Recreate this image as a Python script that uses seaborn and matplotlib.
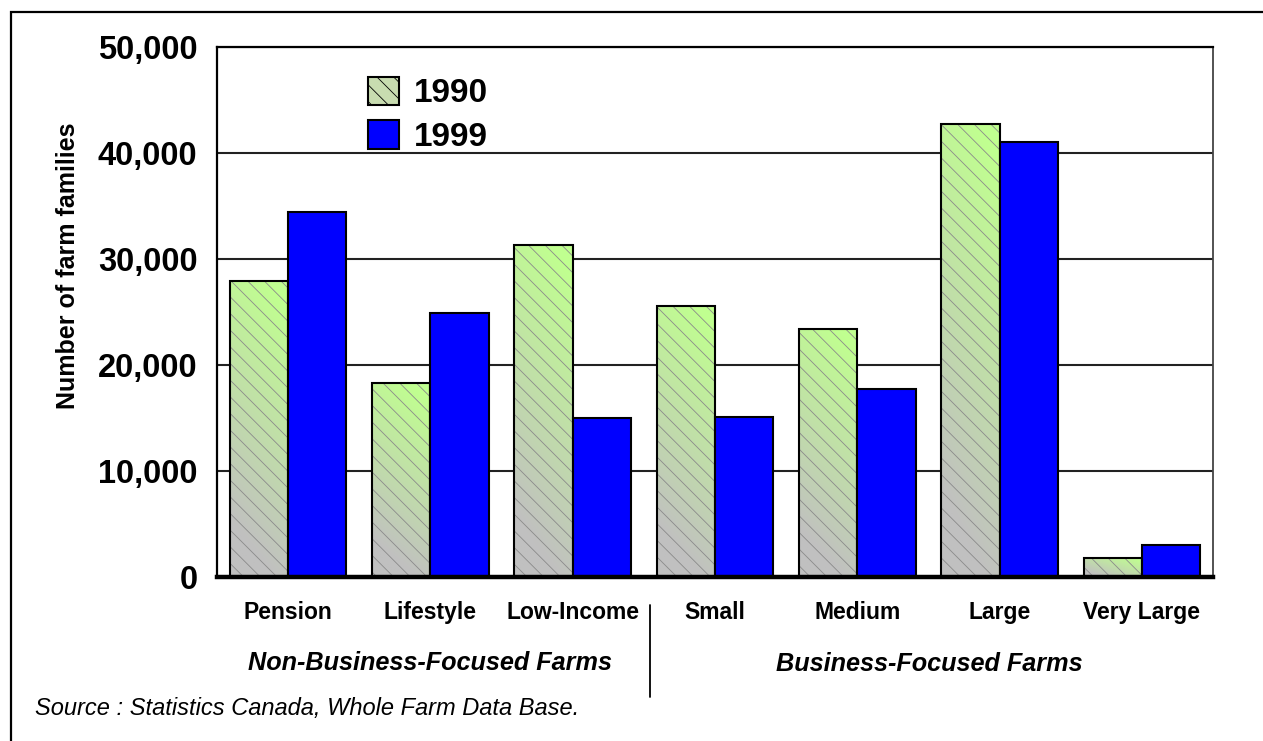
import numpy as np
import pandas as pd
import matplotlib
matplotlib.use("Agg")
import matplotlib.pyplot as plt
from matplotlib.patches import Rectangle, Patch
from matplotlib.lines import Line2D
import seaborn as sns

# ---- data ----
categories = ['Pension', 'Lifestyle', 'Low-Income', 'Small', 'Medium', 'Large', 'Very Large']
years = ['1990', '1999']
values_1990 = [27900, 18300, 31300, 25600, 23400, 42700, 1800]
values_1999 = [34400, 24900, 15000, 15100, 17700, 41000, 3000]
yticks = [0, 10000, 20000, 30000, 40000, 50000]
ytick_labels = ['0', '10,000', '20,000', '30,000', '40,000', '50,000']
group_labels = ['Non-Business-Focused Farms', 'Business-Focused Farms']
y_label = 'Number of farm families'
source_text = 'Source : Statistics Canada, Whole Farm Data Base.'

df = pd.DataFrame({
    'category': categories * 2,
    'year': ['1990'] * len(categories) + ['1999'] * len(categories),
    'value': values_1990 + values_1999,
})

sns.set_theme(style='white')
plt.rcParams['font.family'] = ['Liberation Sans', 'DejaVu Sans']
plt.rcParams['hatch.linewidth'] = 0.6
for k in ['text.color', 'axes.labelcolor', 'xtick.color', 'ytick.color']:
    plt.rcParams[k] = 'black'

W, H = 1263, 741
fig = plt.figure(figsize=(W / 100, H / 100), dpi=100)
fig.patch.set_facecolor('white')

def fx(px):
    return px / W

def fy(py):
    return 1 - py / H

ax = fig.add_axes([fx(217), fy(577), fx(1213) - fx(217), fy(47) - fy(577)])

GRAY = '#c0c0c0'
BLUE = '#0000ff'
sns.barplot(data=df, x='category', y='value', hue='year', order=categories,
            hue_order=years, palette={'1990': GRAY, '1999': BLUE},
            width=0.82, gap=0, edgecolor='black', linewidth=1.5,
            saturation=1, legend=False, ax=ax)

ax.set_xlim(-0.5, len(categories) - 0.5)
ax.set_ylim(0, 50000)

# gradient for 1990 bars
gx = np.linspace(0, 1, 60)
gy = np.linspace(0, 1, 200)
U, V = np.meshgrid(gx, gy)
c_bot = np.array([192, 192, 192]) / 255
c_top = np.array([192, 255, 144]) / 255

for p in list(ax.patches):
    fc = p.get_facecolor()
    if abs(fc[2] - 1.0) < 0.01 and fc[0] < 0.1:
        p.set_zorder(2)
        continue
    x0, y0 = p.get_x(), p.get_y()
    w, h = p.get_width(), p.get_height()
    hpx = h / 50000 * 530
    kx = 0.25 if hpx > 100 else 0.9
    t = np.clip((kx * U + V) / (1 + kx) * 1.3 - 0.2, 0, 1)
    img = c_bot[None, None, :] * (1 - t[..., None]) + c_top[None, None, :] * t[..., None]
    im = ax.imshow(img, extent=(x0, x0 + w, y0, y0 + h), origin='lower',
                   aspect='auto', zorder=1.1, interpolation='bilinear')
    im.set_clip_path(p)
    hatch = Rectangle((x0, y0), w, h, fill=False, hatch='\\\\',
                      edgecolor='#8a8a8a', linewidth=0, zorder=1.2)
    ax.add_patch(hatch)
    p.set_facecolor('none')
    p.set_zorder(1.3)

ax.set_xlim(-0.5, len(categories) - 0.5)
ax.set_ylim(0, 50000)

# grid and spines
ax.set_axisbelow(True)
ax.yaxis.grid(True, color='#222222', linewidth=1.5)
ax.xaxis.grid(False)
for side in ['left', 'top']:
    ax.spines[side].set_color('black')
    ax.spines[side].set_linewidth(1.6)
ax.spines['right'].set_color('#444444')
ax.spines['right'].set_linewidth(1.3)
ax.spines['bottom'].set_color('black')
ax.spines['bottom'].set_linewidth(3.2)
ax.spines['bottom'].set_zorder(3)

ax.set_yticks(yticks)
ax.set_yticklabels(ytick_labels, fontsize=23.5, fontweight='bold')
ax.tick_params(axis='y', length=0, pad=14)
ax.set_xticks(range(len(categories)))
ax.set_xticklabels(categories, fontsize=16.5, fontweight='bold')
ax.tick_params(axis='x', length=0, pad=17)
ax.set_xlabel('')
ax.set_ylabel('')

fig.text(fx(68), fy(266), y_label, rotation=90, ha='center', va='center',
         fontsize=18, fontweight='bold')

# legend
h1990 = Patch(facecolor='#c8dcb0', edgecolor='black', linewidth=1.5, hatch='\\\\')
h1999 = Patch(facecolor=BLUE, edgecolor='black', linewidth=1.5)
leg = ax.legend([h1990, h1999], years, loc='upper left',
                bbox_to_anchor=(fx(351), fy(60)), bbox_transform=fig.transFigure,
                frameon=False, borderpad=0, handlelength=0.95, handleheight=0.95,
                handletextpad=0.45, labelspacing=0.33,
                prop={'size': 24, 'weight': 'bold'})

# group labels and separator
fig.text(fx(430), fy(663), group_labels[0], ha='center', va='center',
         fontsize=18.2, fontweight='bold', fontstyle='italic')
fig.text(fx(929), fy(664), group_labels[1], ha='center', va='center',
         fontsize=18.2, fontweight='bold', fontstyle='italic')
fig.add_artist(Line2D([fx(650), fx(650)], [fy(605), fy(697)], color='black',
                      linewidth=1.3, transform=fig.transFigure))

fig.text(fx(35), fy(709), source_text, ha='left', va='center',
         fontsize=17, fontstyle='italic')

# outer frame
fig.add_artist(Rectangle((fx(11), fy(745)), fx(1270) - fx(11), fy(12) - fy(745),
                         fill=False, edgecolor='black', linewidth=1.6,
                         transform=fig.transFigure))

fig.savefig('out.png', dpi=100)
